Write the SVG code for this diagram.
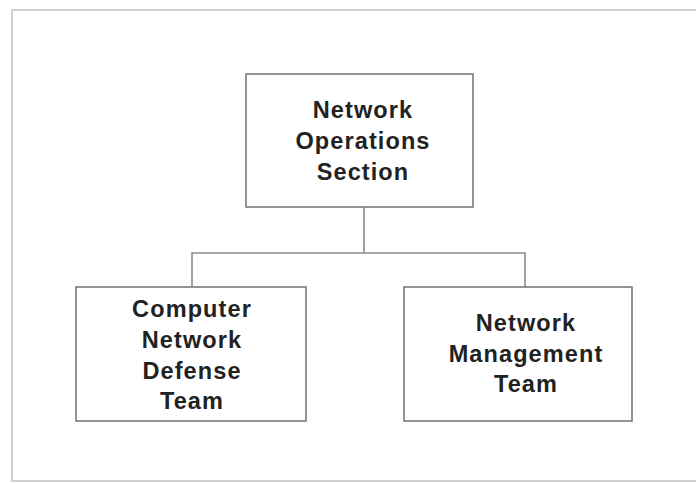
<svg xmlns="http://www.w3.org/2000/svg" width="696" height="483" viewBox="0 0 696 483">
  <style>
    .frame { fill: none; stroke: #cfcfcf; stroke-width: 2; }
    .box { fill: #ffffff; stroke: #7a7a7a; stroke-width: 1.6; }
    .wire { fill: none; stroke: #8a8a8a; stroke-width: 1.6; }
    .label { font-family: "Liberation Sans", Arial, sans-serif; font-weight: bold; font-size: 23.5px; letter-spacing: 1.1px; fill: #222222; text-anchor: middle; }
  </style>
  <rect width="696" height="483" fill="#ffffff"/>
  <!-- page frame -->
  <rect class="frame" x="12" y="10" width="700" height="471"/>

  <!-- connectors -->
  <g id="connectors">
    <path class="wire" d="M364 207 V253"/>
    <path class="wire" d="M192 287 V253 H525 V287"/>
  </g>

  <g id="network-operations-section">
    <rect class="box" x="246" y="74" width="227" height="133"/>
    <text class="label" x="363" y="118">Network</text>
    <text class="label" x="363" y="149">Operations</text>
    <text class="label" x="363" y="180">Section</text>
  </g>

  <g id="computer-network-defense-team">
    <rect class="box" x="76" y="287" width="230" height="134"/>
    <text class="label" x="192" y="317">Computer</text>
    <text class="label" x="192" y="348">Network</text>
    <text class="label" x="192" y="379">Defense</text>
    <text class="label" x="192" y="409">Team</text>
  </g>

  <g id="network-management-team">
    <rect class="box" x="404" y="287" width="228" height="134"/>
    <text class="label" x="526" y="331">Network</text>
    <text class="label" x="526" y="362">Management</text>
    <text class="label" x="526" y="392">Team</text>
  </g>
</svg>
